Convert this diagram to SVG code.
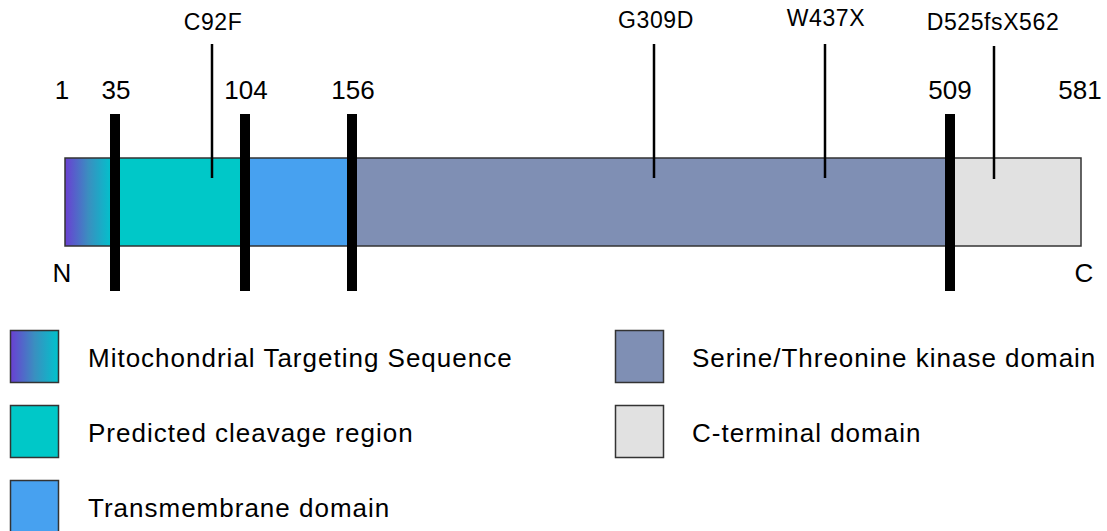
<svg xmlns="http://www.w3.org/2000/svg" width="1107" height="531" viewBox="0 0 1107 531">
<defs>
<linearGradient id="mts" x1="0" y1="0" x2="1" y2="0">
<stop offset="0" stop-color="#6a3fd2"/>
<stop offset="0.5" stop-color="#3a8fc0"/>
<stop offset="1" stop-color="#00c3cc"/>
</linearGradient>
<linearGradient id="mtsBar" gradientUnits="userSpaceOnUse" x1="65" y1="0" x2="112" y2="0">
<stop offset="0" stop-color="#6a3fd2"/>
<stop offset="0.5" stop-color="#3a8fc0"/>
<stop offset="1" stop-color="#00c3cc"/>
</linearGradient>
<style>
text{font-family:"Liberation Sans",Arial,sans-serif;fill:#000}
.num{font-size:26px;text-anchor:middle}
.mut{font-size:23px;text-anchor:middle;letter-spacing:0.6px}
.leg{font-size:26px;letter-spacing:1px}
.seg{stroke:none}
.box{stroke:#333;stroke-width:1.5}
.div{fill:#000}
.mline{stroke:#000;stroke-width:2.5}
</style>
</defs>
<g id="protein">
<rect class="seg" x="65" y="158" width="50" height="88" fill="url(#mtsBar)"/>
<rect class="seg" x="115" y="158" width="130" height="88" fill="#00c8c8"/>
<rect class="seg" x="245" y="158" width="107" height="88" fill="#47a1f0"/>
<rect class="seg" x="352" y="158" width="598" height="88" fill="#7f8fb4"/>
<rect class="seg" x="950" y="158" width="131" height="88" fill="#e1e1e1"/>
<rect x="65" y="158" width="1016" height="88" fill="none" stroke="#333" stroke-width="1.5"/>
</g>
<g id="dividers">
<rect class="div" x="110" y="114" width="10" height="177"/>
<rect class="div" x="240" y="114" width="10" height="177"/>
<rect class="div" x="347" y="114" width="10" height="177"/>
<rect class="div" x="945" y="114" width="10" height="177"/>
</g>
<g id="positions">
<text class="num" x="62" y="99">1</text>
<text class="num" x="116" y="99">35</text>
<text class="num" x="246" y="99">104</text>
<text class="num" x="353" y="99">156</text>
<text class="num" x="950" y="99">509</text>
<text class="num" x="1080" y="99">581</text>
<text class="num" x="62" y="282">N</text>
<text class="num" x="1084" y="282">C</text>
</g>
<g id="mutations">
<line class="mline" x1="212" y1="44" x2="212" y2="178"/>
<line class="mline" x1="654" y1="44" x2="654" y2="178"/>
<line class="mline" x1="825" y1="44" x2="825" y2="178"/>
<line class="mline" x1="994" y1="46" x2="994" y2="179"/>
<text class="mut" x="213" y="30">C92F</text>
<text class="mut" x="656" y="28">G309D</text>
<text class="mut" x="826" y="26">W437X</text>
<text class="mut" x="993" y="30">D525fsX562</text>
</g>
<g id="legend-mts">
<rect class="box" x="10.5" y="330.5" width="48" height="52" fill="url(#mts)"/>
<text class="leg" x="88" y="367">Mitochondrial Targeting Sequence</text>
</g>
<g id="legend-cleavage">
<rect class="box" x="10.5" y="405.5" width="48" height="52" fill="#00c8c8"/>
<text class="leg" x="88" y="442">Predicted cleavage region</text>
</g>
<g id="legend-tm">
<rect class="box" x="10.5" y="480.5" width="48" height="52" fill="#47a1f0"/>
<text class="leg" x="88" y="517">Transmembrane domain</text>
</g>
<g id="legend-kinase">
<rect class="box" x="615.5" y="330.5" width="48" height="52" fill="#7f8fb4"/>
<text class="leg" x="692" y="367">Serine/Threonine kinase domain</text>
</g>
<g id="legend-cterm">
<rect class="box" x="615.5" y="405.5" width="48" height="52" fill="#e1e1e1"/>
<text class="leg" x="692" y="442">C-terminal domain</text>
</g>
</svg>
